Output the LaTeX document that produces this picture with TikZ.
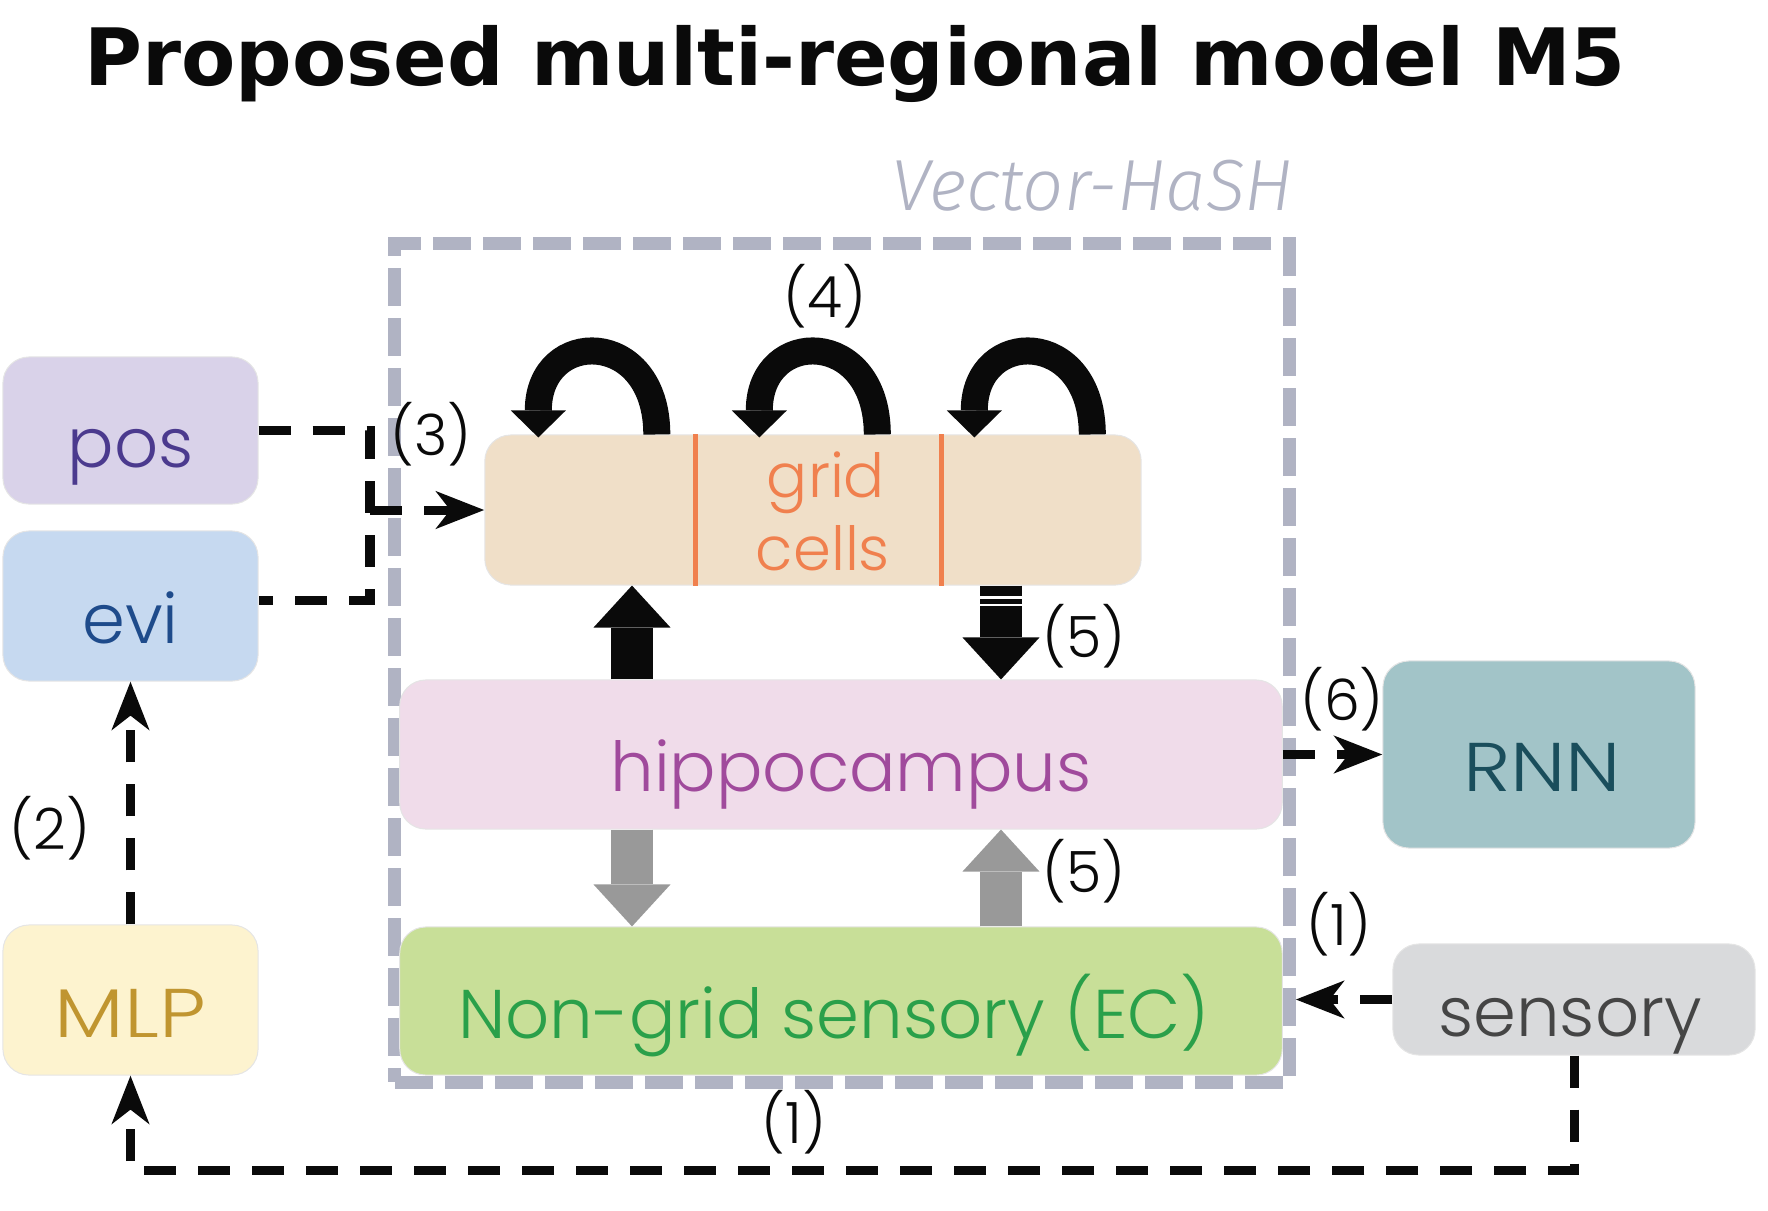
\documentclass[tikz,border=0pt]{standalone}
\usepackage{fontspec}
\usetikzlibrary{arrows.meta,calc}
\newfontfamily\popf{Poppins}[UprightFont=* Light]
\newfontfamily\titlef{DejaVu Sans}
\newfontfamily\vhf{Fira Sans}[UprightFont=* Light, ItalicFont=* Light Italic]
\definecolor{posfill}{HTML}{D9D2E9}\definecolor{postext}{HTML}{4B3A8E}
\definecolor{evifill}{HTML}{C6D9F0}\definecolor{evitext}{HTML}{1E4B8B}
\definecolor{gridfill}{HTML}{F0DFC8}\definecolor{gridtext}{HTML}{F0804E}
\definecolor{hipfill}{HTML}{F0DCEA}\definecolor{hiptext}{HTML}{A04A9C}
\definecolor{ecfill}{HTML}{C8DF98}\definecolor{ectext}{HTML}{2AA04A}
\definecolor{rnnfill}{HTML}{A2C4C8}\definecolor{rnntext}{HTML}{1A4E5C}
\definecolor{senfill}{HTML}{D9DADC}\definecolor{sentext}{HTML}{454545}
\definecolor{mlpfill}{HTML}{FDF3CF}\definecolor{mlptext}{HTML}{C09530}
\definecolor{framec}{HTML}{B0B3C3}
\definecolor{blackc}{HTML}{0A0A0A}
\definecolor{grayc}{HTML}{999999}
\begin{document}
\begin{tikzpicture}[x=0.01cm,y=-0.01cm,
  box/.style={rounded corners=0.26cm, draw=black!10, line width=0.01cm, inner sep=0pt,
    text height=0.8cm, text depth=0.06cm, font=\popf\fontsize{19.6}{22}\selectfont},
  dl/.style={line width=0.09cm, dash pattern=on 0.32cm off 0.22cm, draw=blackc},
  tip/.style={-{Stealth[length=0.48cm,width=0.37cm,inset=0.14cm]}},
  blk/.style={line width=0.41cm, -{Triangle[length=0.42cm,width=0.77cm,line width=0pt]}},
  loopa/.style={line width=0.27cm, draw=blackc, -{Triangle[length=0.27cm,width=0.55cm,line width=0pt]}},
  lbl/.style={font=\popf\fontsize{16.2}{18}\selectfont, inner sep=0pt, text=blackc},
  gtxt/.style={anchor=base, inner sep=0pt, text=gridtext, font=\popf\fontsize{17.3}{20}\selectfont}
]
\useasboundingbox (0,0) rectangle (1768,1211);

% title
\node[anchor=base, inner sep=0pt, font=\titlef\bfseries\fontsize{22.5}{26}\selectfont, text=blackc] (title) at (855,85) {Proposed multi-regional model M5};

% Vector-HaSH frame
\node[draw=framec, line width=0.13cm, dash pattern=on 0.38cm off 0.12cm, minimum width=8.94cm, minimum height=8.38cm, inner sep=0pt] (vh) at (842,663) {};
\node[anchor=base east, inner sep=0pt, text=framec, font=\vhf\itshape\fontsize{20.6}{24}\selectfont] (vhl) at (1294,210) {Vector-HaSH};

% boxes
\node[box, fill=posfill, text=postext, minimum width=2.55cm, minimum height=1.47cm] (pos) at (130.5,430.5) {pos};
\node[box, fill=evifill, text=evitext, minimum width=2.55cm, minimum height=1.50cm] (evi) at (130.5,606) {evi};
\node[box, fill=mlpfill, text=mlptext, minimum width=2.55cm, minimum height=1.50cm] (mlp) at (130.5,1000) {\scalebox{1.2}[1]{MLP}};
\node[box, fill=gridfill, minimum width=6.56cm, minimum height=1.50cm] (grid) at (813,510) {};
\node[box, fill=hipfill, text=hiptext, minimum width=8.82cm, minimum height=1.49cm] (hippo) at (841,754.5) {\hspace*{0.2cm}hippocampus};
\node[box, fill=ecfill, text=ectext, minimum width=8.82cm, minimum height=1.48cm] (ec) at (841,1001) {Non-grid sensory (EC)\hspace*{0.14cm}};
\node[box, fill=rnnfill, text=rnntext, minimum width=3.12cm, minimum height=1.87cm] (rnn) at (1539,754.5) {\hspace*{0.06cm}\scalebox{1.17}[1]{RNN}};
\node[box, fill=senfill, text=sentext, minimum width=3.62cm, minimum height=1.11cm] (sens) at (1574,999.5) {sensory\hspace*{0.08cm}};

% grid cell text and dividers
\node[gtxt] (gt1) at (826,497) {grid};
\node[gtxt] (gt2) at (823,570) {cells};
\draw[gridtext, line width=0.05cm] ($(grid.south west)+(211,0)$) -- ($(grid.north west)+(211,0)$);
\draw[gridtext, line width=0.05cm] ($(grid.south west)+(457,0)$) -- ($(grid.north west)+(457,0)$);

% self loops (4)
\draw[loopa] ($(grid.north west)+(172.5,0)$) .. controls ($(grid.north west)+(172.5,-107)$) and ($(grid.north west)+(54,-107)$) .. ($(grid.north west)+(54,3)$);
\draw[loopa] ($(grid.north west)+(393,0)$) .. controls ($(grid.north west)+(393,-107)$) and ($(grid.north west)+(275,-107)$) .. ($(grid.north west)+(275,3)$);
\draw[loopa] ($(grid.north west)+(608,0)$) .. controls ($(grid.north west)+(608,-107)$) and ($(grid.north west)+(490,-107)$) .. ($(grid.north west)+(490,3)$);

% block arrows
\coordinate (c1) at (632,0);
\coordinate (c2) at (1001,0);
\draw[blk, draw=blackc] (hippo.north -| c1) -- (grid.south -| c1);
\draw[blk, draw=blackc] (grid.south -| c2) -- (hippo.north -| c2);
\draw[white, line width=0.03cm] (980,597) -- (1022,597);
\draw[white, line width=0.025cm] (980,605) -- (1022,605);
\draw[blk, draw=grayc] (hippo.south -| c1) -- (ec.north -| c1);
\draw[blk, draw=grayc] (ec.north -| c2) -- (hippo.south -| c2);

% dashed connectors
\coordinate (j3) at (370,510);
\coordinate (jb) at (0,1170);
\draw[dl] (pos.east) -| (j3) |- ($(evi.east)+(0,-6)$);
\draw[dl,tip] (j3) -- (grid.west);
\draw[dl,tip] (mlp.north) -- (mlp.north |- evi.south);
\draw[dl,tip] (sens.south) -- (sens.south |- jb) -- (mlp.south |- jb) -- (mlp.south);
\draw[dl,tip] (hippo.east) -- (rnn.west);
\draw[dl,tip] (sens.west) -- (sens.west -| vh.east);

% labels
\node[lbl] (l4) at (825,296) {(4)};
\node[lbl] (l3) at (431,434) {(3)};
\node[lbl] (l5a) at (1084,636) {(5)};
\node[lbl] (l5b) at (1084,871) {(5)};
\node[lbl] (l6) at (1342,699) {(6)};
\node[lbl] (l1a) at (1339,924) {(1)};
\node[lbl] (l1b) at (794,1122) {(1)};
\node[lbl] (l2) at (50,828) {(2)};
\end{tikzpicture}
\end{document}
